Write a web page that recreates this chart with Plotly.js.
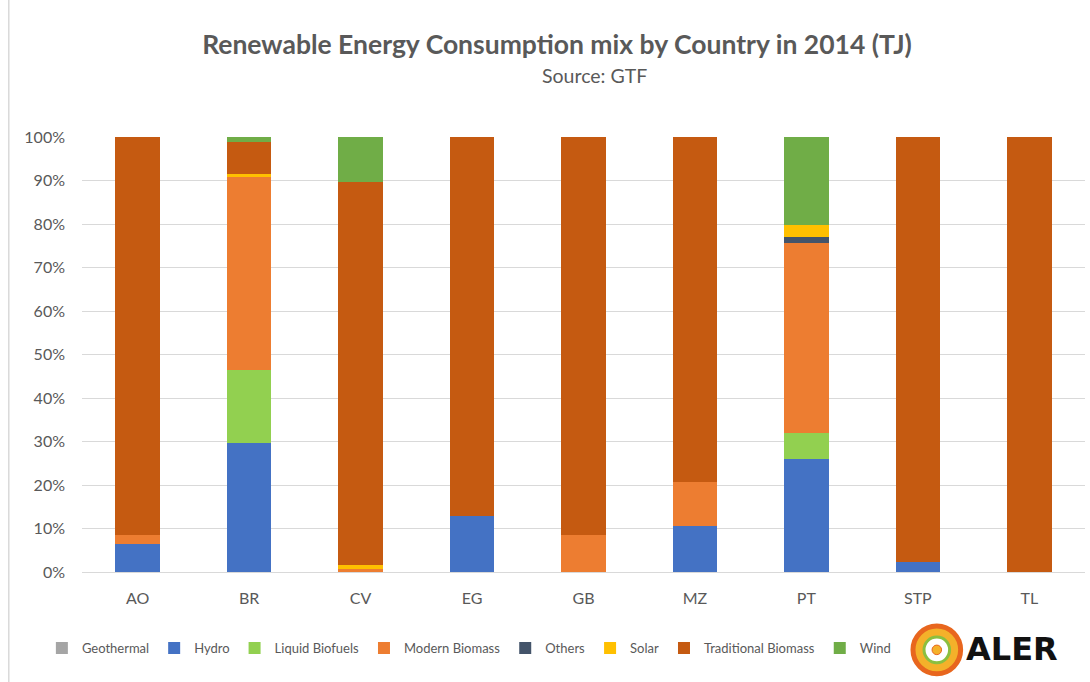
<!DOCTYPE html>
<html>
<head>
<meta charset="utf-8">
<script src="https://cdn.plot.ly/plotly-3.0.1.min.js"></script>
<style>html,body{margin:0;padding:0;background:#fff;}#chart{width:1090px;height:682px;}</style>
</head>
<body>
<div id="chart"></div>
<script>
const countries = ["AO","BR","CV","EG","GB","MZ","PT","STP","TL"];
const geothermal = [0, 0, 0, 0, 0, 0, 0, 0, 0];
const hydro = [6.4, 29.7, 0, 12.9, 0, 10.6, 25.9, 2.2, 0];
const liquidBiofuels = [0, 16.7, 0, 0, 0, 0, 6.0, 0, 0];
const modernBiomass = [2.1, 44.3, 0.7, 0, 8.5, 10.0, 43.8, 0, 0];
const others = [0, 0, 0, 0, 0, 0, 1.3, 0, 0];
const solar = [0, 0.8, 0.8, 0, 0, 0, 2.7, 0, 0];
const traditionalBiomass = [91.5, 7.4, 88.2, 87.1, 91.5, 79.4, 0, 97.8, 100];
const wind = [0, 1.1, 10.3, 0, 0, 0, 20.3, 0, 0];

const seriesNames = ["Geothermal","Hydro","Liquid Biofuels","Modern Biomass","Others","Solar","Traditional Biomass","Wind"];
const seriesValues = [geothermal, hydro, liquidBiofuels, modernBiomass, others, solar, traditionalBiomass, wind];
const seriesColors = ["#A5A5A5","#4472C4","#92D050","#ED7D31","#44546A","#FFC000","#C55A11","#70AD47"];

const traces = seriesNames.map((n, i) => ({
  type: "bar",
  name: n,
  x: countries,
  y: seriesValues[i].map(v => v / 100),
  marker: {color: seriesColors[i], line: {width: 0}},
  hoverinfo: "name+y"
}));

const font = "Lato, 'Open Sans', sans-serif";
const layout = {
  width: 1090, height: 682,
  barmode: "stack",
  bargap: 0.6,
  paper_bgcolor: "#fff", plot_bgcolor: "#fff",
  margin: {l: 82, r: 5, t: 137, b: 110},
  font: {family: font, color: "#595959"},
  title: {text: "<b>Renewable Energy Consumption mix by Country in 2014 (TJ)</b>", x: 0.511, xanchor: "center", y: 0.934, yanchor: "middle", font: {size: 26.5, color: "#595959", family: font}},
  xaxis: {
    type: "category",
    tickfont: {size: 16, color: "#595959"},
    showline: true, linecolor: "#D9D9D9", linewidth: 1,
    ticks: "", showgrid: false, ticklabelstandoff: 12
  },
  yaxis: {
    range: [0, 1],
    tickformat: ".0%",
    dtick: 0.1,
    tickfont: {size: 16, color: "#595959"},
    gridcolor: "#D9D9D9", gridwidth: 1,
    zeroline: false, ticks: "", ticklabelstandoff: 16
  },
  showlegend: true,
  legend: {
    orientation: "h", x: -0.04, xanchor: "left", y: -0.175, yanchor: "middle",
    font: {size: 13, color: "#595959"},
    traceorder: "normal", itemwidth: 30, tracegroupgap: 0
  },
  annotations: [
    {text: "Source: GTF", xref: "paper", yref: "paper", x: 0.511, y: 1.1425, xanchor: "center", yanchor: "middle", showarrow: false, font: {size: 19.5, color: "#595959", family: font}},
    {text: "<b>ALER</b>", xref: "paper", yref: "paper", x: 0.879, y: -0.178, xanchor: "left", yanchor: "middle", showarrow: false, font: {size: 32, color: "#111", family: "'DejaVu Sans', sans-serif"}}
  ],
  shapes: [
    {type: "line", xref: "paper", yref: "paper", x0: -0.073, x1: -0.073, y0: -0.26, y1: 1.32, line: {color: "#D9D9D9", width: 1.5}},
    {type: "circle", xref: "paper", yref: "paper", x0: 0.8285, x1: 0.876, y0: -0.234, y1: -0.124, fillcolor: "#F4B12A", line: {color: "#E8661E", width: 5}},
    {type: "circle", xref: "paper", yref: "paper", x0: 0.8395, x1: 0.865, y0: -0.2085, y1: -0.1495, fillcolor: "#ffffff", line: {color: "#8BBF3F", width: 3}},
    {type: "circle", xref: "paper", yref: "paper", x0: 0.8475, x1: 0.857, y0: -0.19, y1: -0.168, fillcolor: "#F4B12A", line: {color: "#E8661E", width: 1}}
  ]
};

Plotly.newPlot("chart", traces, layout, {displayModeBar: false, staticPlot: true});
</script>
</body>
</html>
